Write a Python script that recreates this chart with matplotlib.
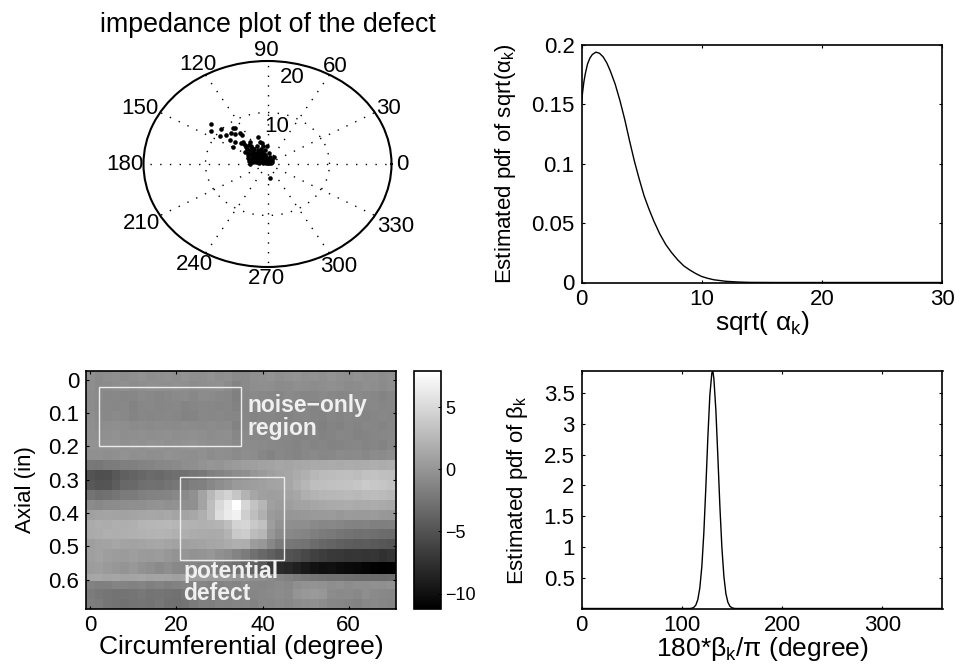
import numpy as np
import matplotlib
matplotlib.use('Agg')
import matplotlib.pyplot as plt
from matplotlib.patches import Rectangle

plt.rcParams['font.family'] = ['Liberation Sans', 'DejaVu Sans']
plt.rcParams['mathtext.fontset'] = 'custom'
plt.rcParams['mathtext.rm'] = 'Liberation Sans'
plt.rcParams['mathtext.it'] = 'Liberation Sans'
plt.rcParams['mathtext.default'] = 'regular'

# ================================================================
# DATA
# ================================================================
# impedance plane points (real, imag)
z_re = [-9.1, -9.1, -7.5, -7.6, -6.7, -5.6, -5.3, -5.9, -5.2, -6.0, -5.2, -5.6, -4.4, -4.1, -4.3,
        -4.0, -3.6, -3.9, -2.8, -1.6, -1.2, -0.9, -2.7, -3.3, -3.6, -3.1, -2.8, -2.3, -1.7, -1.5,
        -0.7, -0.4, -0.1, -0.9, -1.2, -2.0, -2.5, -3.1, -2.9, -2.8, -1.7, -1.2, -0.7, -0.4, 0.2,
        0.4, 1.0, 0.0, -0.7, -1.2, 0.4, -3.4, -3.0, -2.5, -2.1, -1.9, -1.4, -1.0, -0.6, -0.2,
        0.1, 0.6, 0.8, -2.2, -1.6, -0.8, -0.3, 0.3, -3.2, -2.4, -1.3, -0.5, 0.5, -1.8, -1.0,
        -2.6, -2.2, -1.8, -1.4, -1.1, -0.6, -0.2, 0.2, 0.7, -3.0, -2.6, -2.0, -1.5, -0.9, -0.4]
z_im = [7.8, 6.5, 6.7, 5.5, 5.7, 7.0, 7.0, 6.0, 5.8, 4.7, 4.3, 3.3, 6.0, 5.6, 4.0,
        4.1, 3.7, 4.3, 4.3, 5.3, 4.3, 4.0, 3.4, 3.0, 2.4, 2.1, 2.7, 2.4, 3.4, 2.7,
        3.4, 2.7, 3.4, 2.4, 1.8, 1.8, 1.4, 1.1, 0.0, 0.5, 0.8, 0.8, 1.1, 1.8, 2.1,
        1.4, 1.3, 0.5, 0.1, 0.5, -2.7, 3.3, 3.6, 3.1, 2.9, 2.1, 2.1, 1.5, 1.6, 1.2,
        0.9, 0.6, 0.4, 1.1, 1.3, 0.4, 0.2, 0.2, 1.7, 0.3, 0.1, 0.3, 0.1, 0.3, 2.9,
        2.0, 1.7, 1.5, 1.0, 2.3, 2.0, 1.4, 0.7, 0.8, 0.6, 0.9, 0.5, 0.6, 1.3, 0.9]
polar_angles = [0, 30, 60, 90, 120, 150, 180, 210, 240, 270, 300, 330]

# pdf of sqrt(alpha)
alpha_x = [0, 0.05, 0.1, 0.2, 0.3, 0.5, 0.7, 0.9, 1.2, 1.5, 1.8, 2.1, 2.4, 2.8, 3.2, 3.6, 4.0, 4.4, 4.8,
           5.2, 5.6, 6.0, 6.5, 7.0, 7.5, 8.0, 8.5, 9.0, 9.5, 10, 10.5, 11, 12, 13, 14, 16, 20, 30]
alpha_pdf = [0.150, 0.156, 0.161, 0.169, 0.175, 0.184, 0.189, 0.192, 0.194, 0.193, 0.190, 0.185, 0.178,
             0.167, 0.153, 0.137, 0.119, 0.102, 0.087, 0.073, 0.062, 0.052, 0.041, 0.032, 0.025, 0.019,
             0.014, 0.0105, 0.0075, 0.005, 0.0035, 0.0023, 0.001, 0.0004, 0.0001, 0, 0, 0]

# pdf of beta
beta_x = [0, 108, 110, 112, 114, 116, 118, 120, 122, 124, 126, 128, 130, 131, 132, 134, 136, 138,
          140, 142, 144, 146, 148, 150, 152, 154, 360]
beta_pdf = [0, 0, 0.005, 0.019, 0.055, 0.145, 0.335, 0.68, 1.23, 1.97, 2.78, 3.47, 3.83, 3.85, 3.74,
            3.22, 2.46, 1.66, 0.99, 0.52, 0.24, 0.10, 0.037, 0.012, 0.003, 0, 0]

# C-scan image, rows along axial, columns along circumferential
cscan = np.array([
 [-.5,-.8,-.6,-.4,-.7,-.5,-.3,-.6,-.4,-.3,-.5,-.2,-.4,-.5,-.3,-.6,-.4,-.8,-.9,-.5,-.4,-.2,-.5,-.3,-.1,-.4,-.3,-.5,-.2,-.4,-.6,-.3,-.5,-.4,-.7,-.5],
 [-.6,-.9,-.8,-.6,-.5,-.7,-.6,-.4,-.5,-.6,-.4,-.5,-.7,-.6,-.5,-.4,-.8,-1.3,-.9,-.6,-.5,-.6,-.8,-.7,-.5,-.6,-.7,-.6,-.4,-.6,-.8,-.7,-.5,-.6,-.8,-.6],
 [-.7,-.9,-1.1,-1.0,-1.2,-1.1,-.9,-1.0,-1.2,-1.0,-.9,-.8,-1.0,-.7,-.8,-1.0,-1.1,-1.6,-1.0,-.9,-1.0,-1.1,-1.2,-.9,-1.0,-1.2,-1.1,-.9,-1.0,-1.2,-1.1,-.9,-1.0,-1.1,-1.3,-1.1],
 [-.7,-1.0,-1.0,-1.1,-1.0,-1.4,-1.1,-1.0,-1.2,-1.1,-1.0,-1.3,-1.2,-1.0,-1.1,-1.2,-1.1,-1.5,-1.2,-1.0,-1.1,-1.3,-1.4,-1.2,-1.3,-1.1,-1.4,-1.2,-1.3,-1.1,-1.0,-1.2,-1.1,-1.0,-1.2,-1.1],
 [-.6,-.9,-1.0,-.9,-1.0,-1.3,-1.1,-1.2,-1.1,-1.0,-1.2,-1.4,-1.3,-1.0,-1.1,-1.0,-1.2,-1.2,-1.1,-1.3,-1.2,-1.2,-1.3,-1.4,-1.2,-1.1,-1.3,-1.5,-1.2,-1.3,-1.1,-1.2,-1.3,-1.2,-1.0,-1.2],
 [-.5,-.7,-.6,-.5,-.6,-.8,-.7,-.9,-.7,-.8,-.9,-.7,-.8,-.9,-.7,-.9,-.8,-1.4,-1.0,-.9,-1.0,-1.2,-1.1,-1.3,-1.2,-1.5,-1.4,-1.6,-1.3,-1.5,-1.2,-1.3,-1.1,-1.2,-1.3,-1.1],
 [-.4,-.5,-.4,-.3,-.6,-.5,-.4,-.6,-.5,-.4,-.6,-.5,-.4,-.5,-.7,-.6,-.5,-1.1,-.9,-1.0,-1.1,-1.0,-1.2,-1.1,-1.3,-1.4,-1.2,-1.5,-1.3,-1.1,-1.2,-1.4,-1.3,-1.2,-1.1,-1.0],
 [-.2,-.3,-.2,-.1,-.4,-.3,-.4,-.2,-.3,-.5,-.4,-.3,-.2,-.4,-.6,-.5,-.6,-.9,-.7,-.8,-.9,-1.0,-1.1,-1.2,-1.3,-1.1,-1.3,-1.2,-1.4,-1.3,-1.2,-1.1,-1.3,-1.2,-1.4,-1.0],
 [-.5,-.4,-.6,-.5,-.3,-.5,-.4,-.6,-.5,-.3,-.4,-.5,-.6,-.4,-.7,-.5,-.6,-.8,-.6,-.7,-1.1,-1.4,-1.0,-1.2,-1.3,-1.0,-.9,-1.1,-1.0,-.8,-.9,-.8,-1.0,-.7,-.8,-.6],
 [-2.2,-2.3,-2.0,-1.9,-1.7,-1.6,-1.4,-1.3,-1.1,-1.0,-.9,-.6,-.5,-.2,0.0,-.1,0.2,0.4,0.6,0.7,0.9,1.0,1.2,1.1,1.3,1.4,1.5,1.5,1.6,1.5,1.7,1.6,1.7,1.8,1.7,1.8],
 [-5.0,-5.3,-5.2,-4.6,-4.0,-3.7,-3.5,-3.2,-3.3,-3.0,-2.9,-2.7,-2.4,-2.2,-1.6,-1.4,-1.1,-.7,-.5,0.0,0.3,0.7,1.0,1.2,1.6,2.0,2.5,2.8,2.9,3.0,3.1,2.9,3.2,3.3,3.1,3.0],
 [-4.6,-4.9,-4.8,-4.2,-3.4,-3.3,-2.9,-2.7,-2.8,-2.5,-2.3,-2.1,-1.7,-1.6,-1.0,-.6,-.2,0.3,0.5,0.6,0.8,1.0,1.1,1.3,1.9,2.4,3.0,3.1,3.2,3.3,3.4,3.6,3.9,3.7,3.5,3.3],
 [-2.6,-2.9,-2.7,-2.4,-2.0,-2.0,-1.6,-1.5,-1.4,-1.3,-1.0,-.9,-.4,1.0,2.6,3.9,4.6,3.6,2.2,1.2,0.8,0.6,0.7,1.0,1.2,1.9,2.2,2.4,2.5,2.6,2.7,2.6,2.8,2.9,2.8,2.6],
 [-.8,-1.0,-.8,-.7,-.6,-.5,-.5,-.3,-.2,-.4,-.3,-.5,-.4,1.0,3.0,5.0,6.2,7.9,4.8,3.4,2.4,0.8,0.5,0.6,0.9,1.0,1.2,1.4,1.5,1.6,1.7,1.5,1.6,1.7,1.5,1.4],
 [0.8,1.0,1.1,1.0,0.9,1.1,1.2,1.3,1.2,1.4,1.1,1.0,1.3,1.9,3.0,5.4,6.4,6.8,4.2,3.0,2.0,0.4,0.1,0.0,0.1,0.2,0.3,0.3,0.4,0.2,0.4,0.3,0.3,0.4,0.2,0.1],
 [1.6,1.8,1.7,1.9,1.8,2.0,2.3,2.4,2.5,2.6,2.4,2.2,2.1,2.0,2.1,2.3,3.0,4.6,4.8,3.8,3.2,0.6,-.3,-.5,-.6,-.6,-.9,-1.1,-1.0,-1.2,-1.4,-1.5,-1.4,-1.6,-1.7,-1.6],
 [1.5,1.7,1.9,1.8,1.9,2.0,2.1,2.2,2.3,2.2,2.0,1.9,1.7,1.6,1.5,1.6,2.2,3.8,4.1,2.9,2.4,0.1,-.8,-1.0,-1.2,-1.3,-1.7,-2.0,-2.1,-2.4,-2.6,-2.8,-2.7,-2.9,-3.1,-3.2],
 [0.6,0.9,1.0,1.2,1.0,0.9,1.1,1.2,1.3,1.1,0.9,0.8,0.9,1.0,1.2,1.3,1.6,1.9,1.8,0.5,0.1,-1.1,-2.0,-2.3,-2.4,-2.6,-3.1,-3.5,-3.7,-4.0,-4.2,-4.4,-4.3,-4.5,-4.7,-4.9],
 [0.7,0.9,0.6,0.5,0.4,0.6,0.4,0.3,0.5,0.1,-.2,0.0,-.3,-.1,0.1,-.4,-.7,-1.3,-1.9,-2.8,-3.4,-4.0,-4.6,-5.0,-5.3,-5.8,-6.3,-6.6,-6.9,-7.0,-7.2,-7.1,-7.3,-7.2,-7.6,-7.3],
 [0.5,0.6,0.3,0.1,-.1,0.2,-.3,-.5,-.9,-.6,-1.0,-1.1,-1.2,-1.5,-1.4,-1.9,-2.4,-2.7,-3.4,-3.8,-4.6,-6.9,-8.0,-8.3,-8.8,-9.3,-9.8,-10.1,-10.0,-10.3,-10.4,-10.6,-10.8,-11.0,-11.2,-11.1],
 [1.2,1.3,1.1,1.2,1.0,1.1,1.2,1.0,1.1,1.0,0.8,0.9,0.7,0.6,0.5,0.4,0.3,0.0,-.1,-.4,-.6,-.9,-1.3,-1.6,-1.9,-2.1,-2.4,-2.6,-2.7,-2.7,-2.9,-3.0,-3.0,-3.1,-3.2,-3.0],
 [-1.5,-1.7,-1.6,-1.3,-1.4,-1.5,-1.3,-1.6,-1.4,-1.7,-1.5,-1.3,-1.4,-1.2,-1.5,-1.4,-1.2,-1.3,-1.0,-1.1,-1.2,-1.0,-.8,-1.0,-.5,-.3,-.2,-.3,-.6,-.4,-.7,-.5,-.6,-.4,-.5,-.3],
 [-2.0,-2.3,-2.4,-2.6,-2.5,-2.4,-2.2,-2.5,-2.4,-2.6,-2.7,-2.3,-2.1,-1.9,-2.0,-1.8,-1.5,-1.7,-1.4,-1.2,-1.0,-.9,-.7,-.9,-.1,0.2,0.3,0.1,-.7,-.9,-.8,-1.0,-.6,-.9,-1.0,-1.1],
 [-1.8,-2.0,-2.4,-2.6,-2.7,-2.5,-2.4,-2.6,-2.3,-2.7,-2.8,-2.5,-2.0,-1.6,-1.7,-1.4,-1.5,-1.3,-1.2,-1.4,-1.0,-1.1,-.9,-1.0,-.7,-.5,-.4,-.7,-1.1,-1.2,-1.3,-1.5,-1.1,-1.0,-1.2,-1.3],
])
cscan_x = [-1, 1, 3, 5, 7, 9, 11, 13, 15, 17, 19, 21, 23, 25, 27, 29, 31, 33, 35, 37, 39, 41, 43, 45, 47, 49,
           51, 53, 55, 57, 59, 61, 63, 65, 67, 69, 71]
cscan_y = [-0.026, 0.004, 0.033, 0.063, 0.093, 0.123, 0.152, 0.182, 0.212, 0.241, 0.271, 0.301, 0.331, 0.360,
           0.390, 0.420, 0.449, 0.479, 0.509, 0.548, 0.583, 0.605, 0.628, 0.657, 0.687]
noise_box = [2.1, 0.021, 32.9, 0.179]
defect_box = [20.9, 0.291, 24.1, 0.249]

W, H = 956, 665
def pos(l, t, r, b):
    return [l/W, 1 - b/H, (r - l)/W, (b - t)/H]

FS = 16
LABEL_FS = 19
YLABEL_FS = 16
fig = plt.figure(figsize=(9.56, 6.65), dpi=100)

# ================================================================
# polar
# ================================================================
ax = fig.add_axes(pos(143.5, 61, 391.5, 267), projection='polar')
ax.set_aspect('auto')
ax.plot(np.arctan2(z_im, z_re), np.hypot(z_re, z_im), 'o', color='k', ms=3.3, mew=0)
ax.set_rlim(0, 20)
ax.set_xticks(np.deg2rad(polar_angles))
ax.set_yticks([10])
ax.set_xticklabels([])
ax.set_yticklabels([])
ax.grid(True, color='k', linewidth=1.0, linestyle=(0, (1, 6)))
ax.spines['polar'].set_linewidth(1.5)
ax.tick_params(length=0)
# label spots, in pixels
polar_label_px = [(402.7, 165), (388, 108), (335, 67), (266.7, 51), (198, 64), (140, 108),
                  (125, 165), (141, 223), (194, 265), (266.7, 279), (339, 267), (396, 226)]
for ang, (px, py) in zip(polar_angles, polar_label_px):
    fig.text(px/W, 1 - py/H, str(ang), ha='center', va='center', fontsize=FS)
ax.text(np.deg2rad(78), 7.4, '10', ha='center', va='center', fontsize=FS)
ax.text(np.deg2rad(76.7), 17.2, '20', ha='center', va='center', fontsize=FS)
fig.text(268/W, 1 - 25/H, 'impedance plot of the defect', ha='center', va='center', fontsize=19.3)

# ================================================================
# pdf of sqrt(alpha)
# ================================================================
ax = fig.add_axes(pos(581.5, 45, 942.5, 282.5))
ax.plot(alpha_x, alpha_pdf, color='k', linewidth=1)
ax.set_xlim(0, 30)
ax.set_ylim(0, 0.2)
ax.set_xticks([0, 10, 20, 30])
ax.set_xticklabels(['0', '10', '20', '30'])
ax.set_yticks([0, 0.05, 0.1, 0.15, 0.2])
ax.set_yticklabels(['0', '0.05', '0.1', '0.15', '0.2'])
ax.set_xlabel(r'sqrt( $\alpha_k$)', fontsize=LABEL_FS, labelpad=-1)
ax.set_ylabel(r'Estimated pdf of sqrt($\alpha_k$)', fontsize=YLABEL_FS)
ax.yaxis.set_label_coords(-0.176, 0.5)

# ================================================================
# pdf of beta
# ================================================================
ax = fig.add_axes(pos(581.5, 371, 942.5, 608.5))
ax.plot(beta_x, beta_pdf, color='k', linewidth=1)
ax.set_xlim(0, 360)
ax.set_ylim(0, 3.86)
ax.set_xticks([0, 100, 200, 300])
ax.set_yticks([0.5, 1, 1.5, 2, 2.5, 3, 3.5])
ax.set_yticklabels(['0.5', '1', '1.5', '2', '2.5', '3', '3.5'])
ax.set_xlabel(r'180*$\beta_k$/$\pi$ (degree)', fontsize=LABEL_FS, labelpad=-1)
ax.set_ylabel(r'Estimated pdf of $\beta_k$', fontsize=YLABEL_FS)
ax.yaxis.set_label_coords(-0.143, 0.5)

# ================================================================
# image + colorbar
# ================================================================
ax = fig.add_axes(pos(86, 371, 396, 608.5))
im = ax.pcolormesh(cscan_x, cscan_y, cscan, cmap='gray', vmin=-11.2, vmax=7.9, shading='flat')
ax.set_xlim(-1, 71)
ax.set_ylim(0.687, -0.026)
ax.set_xticks([0, 20, 40, 60])
ax.set_yticks([0, 0.1, 0.2, 0.3, 0.4, 0.5, 0.6])
ax.set_yticklabels(['0', '0.1', '0.2', '0.3', '0.4', '0.5', '0.6'])
ax.set_xlabel('Circumferential (degree)', fontsize=LABEL_FS, labelpad=-1)
ax.set_ylabel('Axial (in)', fontsize=YLABEL_FS)
ax.yaxis.set_label_coords(-0.161, 0.5)
for box in [noise_box, defect_box]:
    ax.add_patch(Rectangle((box[0], box[1]), box[2], box[3], fill=False, edgecolor='#ececec', linewidth=1.0))
for x, y, s in [(36.4, 0.079, 'noise\u2212only'), (36.4, 0.148, 'region'),
                (21.6, 0.576, 'potential'), (21.6, 0.643, 'defect')]:
    ax.text(x, y, s, color='#f0f0f0', fontsize=16.5, fontweight='bold', ha='left', va='center')

cax = fig.add_axes(pos(413.5, 371, 441, 608.5))
cb = fig.colorbar(im, cax=cax)
cb.set_ticks([-10, -5, 0, 5])
cb.set_ticklabels(['\u221210', '\u22125', '0', '5'])
cb.ax.tick_params(labelsize=13, length=2, direction='in', pad=3, width=0.7, color='k')

for a in fig.axes[1:]:
    for s in a.spines.values():
        s.set_linewidth(1.2)
for a in fig.axes[1:4]:
    a.tick_params(direction='in', top=True, right=True, length=2.2, width=0.8, labelsize=FS, pad=5)

fig.savefig('out.png', dpi=100)
